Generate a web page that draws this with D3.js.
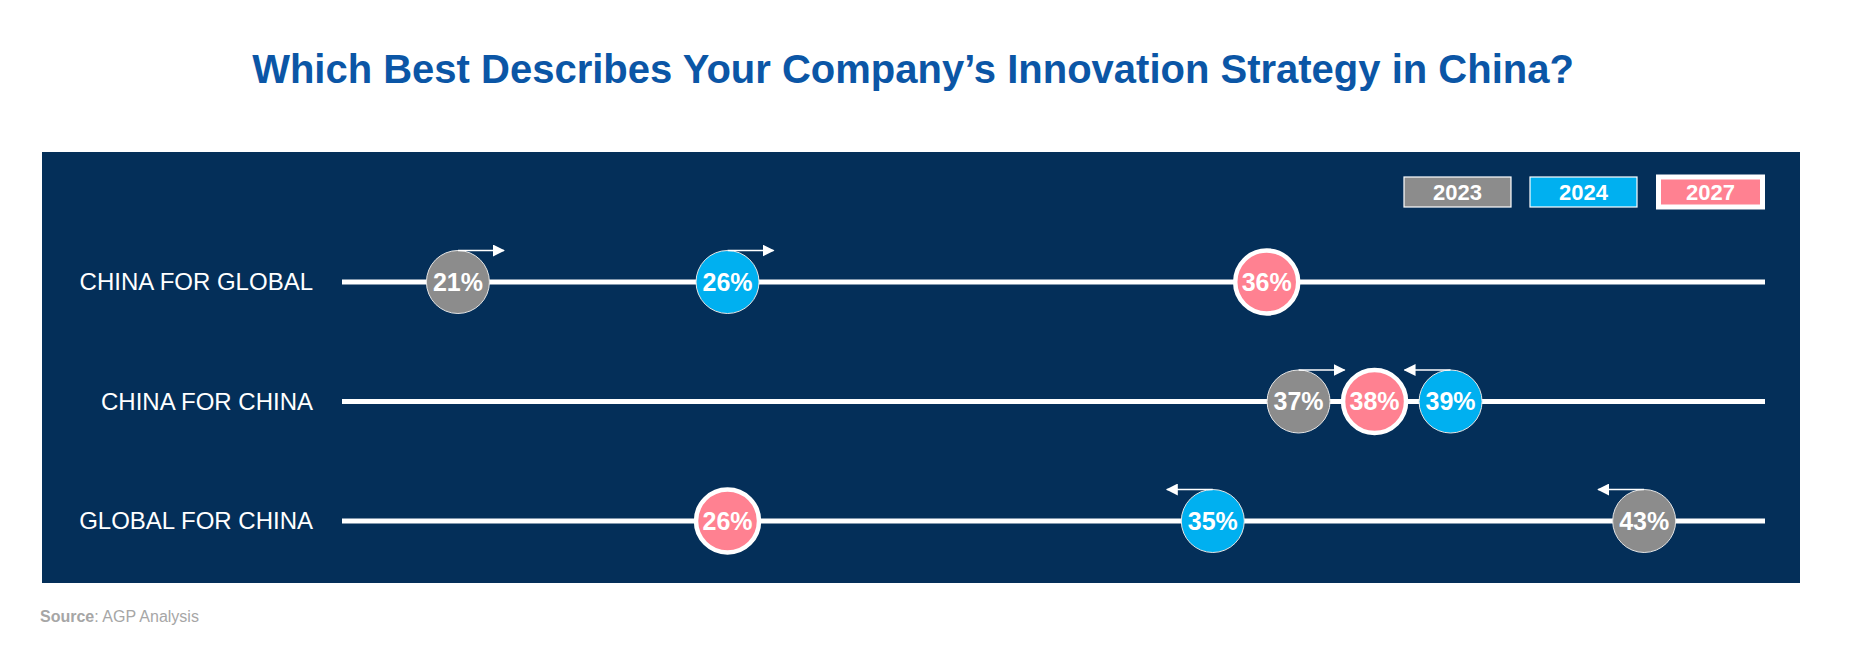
<!DOCTYPE html>
<html>
<head>
<meta charset="utf-8">
<script src="https://cdn.jsdelivr.net/npm/d3@7"></script>
<style>
  body { margin: 0; background: #fff; }
  text { font-family: "Liberation Sans", Arial, sans-serif; }
</style>
</head>
<body>
<div id="chart"></div>
<script>
var rows = ['CHINA FOR GLOBAL', 'CHINA FOR CHINA', 'GLOBAL FOR CHINA'];
var years = ['2023', '2024', '2027'];
var values2023 = [21, 37, 43];
var values2024 = [26, 39, 35];
var values2027 = [36, 38, 26];

var colors = { '2023': '#8c8c8c', '2024': '#00b0f0', '2027': '#ff8191' };

function renderChart(selector) {
    var width = 1858,
        height = 655;

    var panel = { left: 42, top: 152, right: 1800, bottom: 583 };

    // scales
    var x = d3.scaleLinear()
        .domain([20, 45])
        .range([404, 1752]);

    var y = d3.scalePoint()
        .domain(rows)
        .range([282, 521]);

    var radius = 31.5;

    var svg = d3.select(selector).append('svg')
        .attr('width', width)
        .attr('height', height);

    // arrow marker
    svg.append('defs').append('marker')
        .attr('id', 'head')
        .attr('viewBox', '0 0 12 12')
        .attr('refX', 11)
        .attr('refY', 6)
        .attr('markerWidth', 12)
        .attr('markerHeight', 12)
        .attr('markerUnits', 'userSpaceOnUse')
        .attr('orient', 'auto')
        .append('path')
        .attr('d', 'M0,0L12,6L0,12Z')
        .style('fill', '#fff');

    // title
    svg.append('text')
        .attr('x', 913)
        .attr('y', 83)
        .attr('text-anchor', 'middle')
        .style('font-size', '40px')
        .style('font-weight', 'bold')
        .style('fill', '#0b56a6')
        .text('Which Best Describes Your Company\u2019s Innovation Strategy in China?');

    // background panel
    svg.append('rect')
        .attr('x', panel.left)
        .attr('y', panel.top)
        .attr('width', panel.right - panel.left)
        .attr('height', panel.bottom - panel.top)
        .style('fill', '#042f59');

    // legend
    var legend = svg.selectAll('.legend')
        .data(years)
        .enter()
        .append('g')
        .attr('class', 'legend')
        .attr('transform', function (d, i) {
            return 'translate(' + (1404 + i * 126) + ',177)';
        });

    legend.append('rect')
        .attr('x', function (d) { return d === '2027' ? 2.5 : 0; })
        .attr('width', function (d) { return d === '2027' ? 104 : 107; })
        .attr('height', 30)
        .style('fill', function (d) { return colors[d]; })
        .style('stroke', '#fff')
        .style('stroke-width', function (d) { return d === '2027' ? 5 : 1.2; });

    legend.append('text')
        .attr('x', function (d) { return d === '2027' ? 54.5 : 53.5; })
        .attr('y', 15)
        .attr('dy', '.35em')
        .attr('text-anchor', 'middle')
        .style('font-size', '22px')
        .style('font-weight', 'bold')
        .style('fill', '#fff')
        .text(function (d) { return d; });

    // one group per row
    var rowData = rows.map(function (name, i) {
        var pts = [
            { year: '2023', value: values2023[i] },
            { year: '2024', value: values2024[i] },
            { year: '2027', value: values2027[i] }
        ];
        var target = values2027[i];
        pts.forEach(function (p) {
            p.x = x(p.value);
            p.dir = p.year === '2027' ? 0 : (target > p.value ? 1 : -1);
        });
        dodge(pts, 76);
        return { name: name, points: pts };
    });

    var row = svg.selectAll('.row')
        .data(rowData)
        .enter()
        .append('g')
        .attr('class', 'row')
        .attr('transform', function (d) {
            return 'translate(0,' + y(d.name) + ')';
        });

    row.append('text')
        .attr('x', 313)
        .attr('dy', '.35em')
        .attr('text-anchor', 'end')
        .style('font-size', '24px')
        .style('fill', '#fff')
        .text(function (d) { return d.name; });

    row.append('line')
        .attr('x1', 342)
        .attr('x2', 1765)
        .style('stroke', '#fff')
        .style('stroke-width', 5);

    var dot = row.selectAll('.dot')
        .data(function (d) { return d.points; })
        .enter()
        .append('g')
        .attr('class', 'dot')
        .attr('transform', function (d) {
            return 'translate(' + d.px + ',0)';
        });

    dot.append('circle')
        .attr('r', radius)
        .style('fill', function (d) { return colors[d.year]; })
        .style('stroke', function (d) { return d.year === '2027' ? '#fff' : '#e6e6e6'; })
        .style('stroke-width', function (d) { return d.year === '2027' ? 4.5 : 1; });

    dot.append('text')
        .attr('dy', '.35em')
        .attr('text-anchor', 'middle')
        .style('font-size', '25px')
        .style('font-weight', 'bold')
        .style('fill', '#fff')
        .text(function (d) { return d.value + '%'; });

    // arrows showing direction towards 2027
    dot.filter(function (d) { return d.dir !== 0; })
        .append('line')
        .attr('x1', 0)
        .attr('y1', -radius)
        .attr('x2', function (d) { return d.dir * 46; })
        .attr('y2', -radius)
        .attr('marker-end', 'url(#head)')
        .style('stroke', '#fff')
        .style('stroke-width', 1.5);

    // source
    var src = svg.append('text')
        .attr('x', 40)
        .attr('y', 622)
        .style('font-size', '16px')
        .style('fill', '#a6a6a6');
    src.append('tspan').style('font-weight', 'bold').text('Source');
    src.append('tspan').text(': AGP Analysis');
}

// spread out points in a row that would overlap
function dodge(pts, minGap) {
    var sorted = pts.slice().sort(function (a, b) { return a.x - b.x; });
    var groups = [];
    sorted.forEach(function (p) {
        var g = groups[groups.length - 1];
        if (g && p.x - g[g.length - 1].x < minGap) {
            g.push(p);
        } else {
            groups.push([p]);
        }
    });
    groups.forEach(function (g) {
        var mean = d3.mean(g, function (p) { return p.x; });
        g.forEach(function (p, i) {
            p.px = mean + (i - (g.length - 1) / 2) * minGap;
        });
    });
}

renderChart('#chart');
</script>
</body>
</html>
